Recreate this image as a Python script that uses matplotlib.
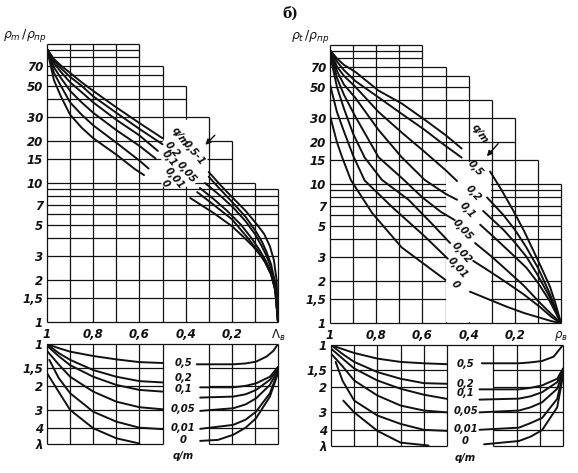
import numpy as np
import matplotlib
matplotlib.use("Agg")
import matplotlib.pyplot as plt
from matplotlib.ticker import NullLocator

W, H = 578, 473

# ---------------- data: upper-left nomogram  (rho_m / rho_pr  vs  Lambda_v) ----------------
tl_labels = ['0,5-1', '0,2', '0,1', '0,05', '0,01', '0']
tl_left_x = [
    [1.0, 0.97, 0.94, 0.9, 0.85, 0.8, 0.7, 0.6, 0.5],
    [1.0, 0.97, 0.94, 0.9, 0.85, 0.8, 0.7, 0.6, 0.5],
    [1.0, 0.97, 0.94, 0.9, 0.85, 0.8, 0.7, 0.6, 0.52],
    [1.0, 0.97, 0.94, 0.9, 0.85, 0.8, 0.7, 0.6, 0.53],
    [1.0, 0.97, 0.94, 0.9, 0.85, 0.8, 0.7, 0.6, 0.56],
    [1.0, 0.97, 0.94, 0.9, 0.85, 0.8, 0.7, 0.62, 0.58],
]
tl_left_y = [
    [92, 78, 70, 62, 53, 46, 35, 27, 21],
    [92, 76, 67, 58, 50, 42, 32, 24.5, 19],
    [92, 73, 63, 53, 45, 38, 28.5, 22, 17],
    [92, 68, 57, 46, 38, 32, 24, 18.5, 15],
    [92, 62, 50, 38, 31, 26, 19.5, 14.5, 12.7],
    [92, 55, 42, 31, 25, 21, 16, 12.6, 11.4],
]
tl_right_x = [
    [0.30, 0.25, 0.195, 0.14, 0.09, 0.06, 0.035, 0.018, 0.006, 0.0],
    [0.30, 0.25, 0.195, 0.14, 0.10, 0.07, 0.05, 0.03, 0.012, 0.0],
    [0.316, 0.25, 0.195, 0.14, 0.10, 0.07, 0.05, 0.03, 0.012, 0.0],
    [0.338, 0.28, 0.22, 0.16, 0.114, 0.08, 0.055, 0.03, 0.012, 0.0],
    [0.35, 0.28, 0.20, 0.135, 0.09, 0.056, 0.03, 0.012, 0.0],
    [0.38, 0.28, 0.20, 0.15, 0.108, 0.075, 0.056, 0.03, 0.012, 0.0],
]
tl_right_y = [
    [12, 9.7, 7.8, 6.3, 5.0, 4.3, 3.5, 2.8, 2.0, 1.0],
    [11.1, 9.0, 7.2, 5.7, 4.6, 3.8, 3.2, 2.6, 1.9, 1.0],
    [10, 8.1, 6.7, 5.3, 4.3, 3.5, 3.0, 2.45, 1.8, 1.0],
    [9.2, 7.7, 6.3, 5.0, 4.0, 3.3, 2.8, 2.3, 1.7, 1.0],
    [8.6, 7.0, 5.5, 4.1, 3.3, 2.7, 2.2, 1.7, 1.0],
    [7.8, 6.1, 4.9, 4.1, 3.5, 3.0, 2.7, 2.2, 1.7, 1.0],
]
tl_label_pos = [(0.365, 16.4), (0.458, 17.4), (0.47, 15.0), (0.398, 11.9), (0.45, 10.9), (0.49, 9.9)]

# ---------------- data: upper-right nomogram  (rho_t / rho_pr  vs  rho_v) ----------------
tr_labels = ['', '0,5', '0,2', '0,1', '0,05', '0,02', '0,01', '0']
tr_left_x = [
    [1.0, 0.97, 0.94, 0.89, 0.79, 0.69, 0.59, 0.5, 0.43],
    [1.0, 0.97, 0.94, 0.89, 0.79, 0.69, 0.59, 0.5, 0.43],
    [1.0, 0.97, 0.94, 0.89, 0.79, 0.69, 0.59, 0.5, 0.45],
    [1.0, 0.97, 0.94, 0.89, 0.79, 0.69, 0.59, 0.5, 0.45],
    [1.0, 0.97, 0.94, 0.89, 0.79, 0.68, 0.6, 0.52, 0.46],
    [1.0, 0.97, 0.94, 0.9, 0.85, 0.775, 0.66, 0.56, 0.48],
    [1.0, 0.97, 0.94, 0.9, 0.85, 0.73, 0.59, 0.49],
    [1.0, 0.97, 0.95, 0.91, 0.818, 0.69, 0.5],
]
tr_left_y = [
    [92, 80, 72, 64, 47, 38, 29, 22.5, 18],
    [92, 76, 66, 55, 42, 32, 24.5, 18.8, 15.5],
    [92, 70, 60, 50, 33, 23.5, 17.0, 12.6, 10.5],
    [92, 65, 52, 41.6, 24.5, 15.6, 10.7, 8.5, 7.7],
    [92, 58, 44, 30.5, 15.6, 10.7, 8.0, 6.3, 5.5],
    [85, 50, 35, 23, 15.5, 10.7, 7.7, 5.2, 3.76],
    [52, 33, 24, 16, 10.6, 6.8, 4.2, 2.9],
    [31, 20, 16, 10.7, 6.2, 3.5, 2.04],
]
tr_right_x = [
    [0.307, 0.26, 0.208, 0.16, 0.121, 0.08, 0.048, 0.025, 0.0],
    [0.32, 0.25, 0.20, 0.15, 0.10, 0.05, 0.0],
    [0.337, 0.25, 0.20, 0.15, 0.10, 0.05, 0.0],
    [0.35, 0.28, 0.20, 0.15, 0.10, 0.05, 0.0],
    [0.372, 0.30, 0.235, 0.16, 0.09, 0.04, 0.0],
    [0.38, 0.30, 0.235, 0.16, 0.09, 0.04, 0.0],
    [0.394, 0.30, 0.235, 0.16, 0.09, 0.04, 0.0],
]
tr_right_y = [
    [12.3, 9.2, 6.5, 4.6, 3.35, 2.4, 1.83, 1.4, 1.0],
    [8.0, 6.0, 4.7, 3.5, 2.5, 1.65, 1.0],
    [6.4, 4.7, 3.8, 3.0, 2.2, 1.55, 1.0],
    [5.1, 4.0, 3.0, 2.5, 1.95, 1.45, 1.0],
    [3.76, 3.0, 2.4, 1.85, 1.39, 1.15, 1.0],
    [2.8, 2.3, 1.95, 1.6, 1.3, 1.1, 1.0],
    [1.68, 1.45, 1.31, 1.18, 1.09, 1.03, 1.0],
]
tr_label_pos = [None, (0.372, 13.0), (0.38, 8.6), (0.407, 6.5), (0.424, 4.7),
                (0.43, 3.2), (0.446, 2.5), (0.459, 1.88)]

# ---------------- data: lower nomograms  (lambda) ----------------
lam_labels = ['0,5', '0,2', '0,1', '0,05', '0,01', '0']
bl_left_x = [
    [1.0, 0.95, 0.9, 0.8, 0.7, 0.6, 0.5],
    [1.0, 0.95, 0.9, 0.8, 0.7, 0.6, 0.5],
    [1.0, 0.95, 0.9, 0.8, 0.7, 0.6, 0.5],
    [1.0, 0.95, 0.9, 0.8, 0.7, 0.6, 0.5],
    [0.99, 0.95, 0.9, 0.8, 0.7, 0.6, 0.5],
    [1.0, 0.95, 0.9, 0.8, 0.7, 0.6],
]
bl_left_y = [
    [1.0, 1.07, 1.135, 1.22, 1.29, 1.35, 1.37],
    [1.0, 1.16, 1.30, 1.54, 1.72, 1.85, 1.89],
    [1.03, 1.22, 1.42, 1.72, 1.97, 2.14, 2.2],
    [1.12, 1.4, 1.72, 2.2, 2.6, 2.85, 2.95],
    [1.3, 1.75, 2.26, 3.07, 3.62, 4.0, 4.1],
    [1.62, 2.2, 2.98, 4.04, 4.77, 5.2],
]
bl_right_x = [
    [0.352, 0.3, 0.194, 0.14, 0.095, 0.049, 0.02, 0.0],
    [0.337, 0.194, 0.14, 0.095, 0.035, 0.0],
    [0.337, 0.194, 0.14, 0.095, 0.035, 0.0],
    [0.337, 0.194, 0.14, 0.095, 0.035, 0.0],
    [0.337, 0.194, 0.14, 0.095, 0.035, 0.0],
    [0.337, 0.26, 0.194, 0.14, 0.095, 0.035, 0.0],
]
bl_right_y = [
    [1.40, 1.40, 1.40, 1.38, 1.34, 1.23, 1.12, 1.0],
    [2.05, 2.05, 2.0, 1.92, 1.72, 1.46],
    [2.43, 2.39, 2.3, 2.14, 1.81, 1.50],
    [3.03, 2.9, 2.72, 2.46, 1.97, 1.54],
    [4.08, 3.82, 3.5, 3.07, 2.26, 1.58],
    [4.98, 4.9, 4.5, 4.0, 3.42, 2.39, 1.62],
]
bl_label_y = [1.37, 1.76, 2.1, 2.95, 4.05, 4.9]

br_left_x = [
    [1.0, 0.95, 0.9, 0.8, 0.7, 0.6, 0.5],
    [1.0, 0.95, 0.9, 0.8, 0.7, 0.6, 0.5],
    [1.0, 0.95, 0.9, 0.8, 0.7, 0.6, 0.5],
    [1.0, 0.95, 0.9, 0.8, 0.7, 0.6, 0.5],
    [0.98, 0.95, 0.9, 0.8, 0.7, 0.6, 0.5],
    [0.947, 0.9, 0.8, 0.7, 0.58],
]
br_left_y = [
    [1.0, 1.07, 1.14, 1.25, 1.32, 1.35, 1.37],
    [1.0, 1.16, 1.32, 1.56, 1.74, 1.87, 1.89],
    [1.06, 1.25, 1.47, 1.79, 2.05, 2.26, 2.42],
    [1.15, 1.42, 1.79, 2.29, 2.7, 2.93, 3.02],
    [1.32, 1.8, 2.49, 3.18, 3.65, 4.02, 4.09],
    [2.49, 3.02, 4.09, 4.96, 5.2],
]
br_right_x = [
    [0.35, 0.30, 0.19, 0.14, 0.09, 0.04, 0.0],
    [0.36, 0.19, 0.14, 0.09, 0.025, 0.0],
    [0.36, 0.19, 0.14, 0.09, 0.025, 0.0],
    [0.36, 0.19, 0.14, 0.09, 0.025, 0.0],
    [0.36, 0.19, 0.14, 0.09, 0.025, 0.0],
    [0.34, 0.19, 0.14, 0.09, 0.025, 0.0],
]
br_right_y = [
    [1.35, 1.35, 1.35, 1.33, 1.30, 1.21, 1.0],
    [2.07, 2.07, 2.02, 1.94, 1.74, 1.47],
    [2.45, 2.41, 2.32, 2.17, 1.84, 1.51],
    [3.02, 2.93, 2.78, 2.56, 2.05, 1.54],
    [4.02, 3.88, 3.6, 3.31, 2.42, 1.6],
    [5.1, 4.83, 4.5, 4.04, 2.78, 1.66],
]
br_label_y = [1.36, 1.9, 2.2, 2.95, 3.95, 4.85]

# ---------------- axes furniture ----------------
top_hgrid = [100, 90, 80, 70, 60, 50, 40, 30, 20, 15, 10, 9, 8, 7, 6, 5, 4, 3, 2, 1.5, 1]
top_ticks = [70, 50, 30, 20, 15, 10, 7, 5, 3, 2, 1.5, 1]
top_ticklabels = ['70', '50', '30', '20', '15', '10', '7', '5', '3', '2', '1,5', '1']
col_edges = [1.0, 0.6, 0.5, 0.4, 0.3, 0.2, 0.1, 0.0]
tl_col_tops = [100, 70, 50, 30, 20, 10, 9]
tr_col_tops = [100, 70, 60, 40, 30, 15, 10]
x_ticks = [1.0, 0.8, 0.6, 0.4, 0.2, 0.0]
lam_grid = [1, 1.5, 2, 3, 4, 5.2]
lam_ticks = [1, 1.5, 2, 3, 4, 5.2]
lam_ticklabels = ['1', '1,5', '2', '3', '4', 'λ']

INK = '#111111'
FONT = dict(fontstyle='italic', fontweight='bold', family='DejaVu Sans', color=INK)
CURVE_FS = 7.2


def rect(l, t, r, b):
    return [l / W, 1 - b / H, (r - l) / W, (b - t) / H]


def bare(ax, ylim, log=True):
    ax.set_xlim(1.0, 0.0)
    if log:
        ax.set_yscale('log')
    ax.set_ylim(*ylim)
    for s in ax.spines.values():
        s.set_visible(False)
    ax.yaxis.set_minor_locator(NullLocator())
    ax.xaxis.set_minor_locator(NullLocator())
    ax.tick_params(length=0, labelsize=8.5)
    ax.patch.set_alpha(0)


def stair_grid(ax, tops):
    xs = np.round(np.arange(1.0, -0.001, -0.1), 2)
    for v in top_hgrid:
        end = None
        for k, t in enumerate(tops):
            if t >= v * 0.999:
                end = col_edges[k + 1]
        ax.hlines(v, 1.0, end, color=INK, lw=0.9, zorder=1, clip_on=False)
    for x in xs:
        adj = [tops[k] for k in range(len(tops))
               if col_edges[k + 1] - 1e-9 <= x <= col_edges[k] + 1e-9]
        ax.vlines(x, 1, max(adj), color=INK, lw=0.9, zorder=1, clip_on=False)


def style_ticks(ax, yt, ytl, xlabels):
    ax.set_yticks(yt, ytl)
    for t in ax.get_yticklabels():
        t.set_fontstyle('italic'); t.set_fontweight('bold'); t.set_color(INK)
    if xlabels is None:
        ax.set_xticks([])
    else:
        ax.set_xticks(x_ticks, xlabels)
        for t in ax.get_xticklabels():
            t.set_fontstyle('italic'); t.set_fontweight('bold'); t.set_color(INK)


fig = plt.figure(figsize=(W / 100, H / 100), dpi=100)
fig.patch.set_facecolor('white')

# ======== upper left ========
ax = fig.add_axes(rect(47, 44, 278, 322))
bare(ax, (1, 100))
stair_grid(ax, tl_col_tops)
ax.fill([0.505, 0.45, 0.305, 0.305, 0.37, 0.505], [19, 28.5, 28.5, 12.5, 9.4, 9.4],
        color='white', zorder=2, lw=0)
for xs, ys in zip(tl_left_x, tl_left_y):
    ax.plot(xs, ys, color=INK, lw=1.4, zorder=3, solid_capstyle='round')
for xs, ys in zip(tl_right_x, tl_right_y):
    ax.plot(xs, ys, color=INK, lw=1.4, zorder=3, solid_capstyle='round')
for lab, (x, y) in zip(tl_labels, tl_label_pos):
    ax.text(x, y, lab, rotation=-50, ha='center', va='center', fontsize=CURVE_FS, zorder=4, **FONT)
ax.text(0.425, 21.6, 'q/m', rotation=-55, ha='center', va='center', fontsize=CURVE_FS, zorder=4, **FONT)
ax.annotate('', xy=(0.323, 18.2), xytext=(0.265, 22.8),
            arrowprops=dict(arrowstyle='-|>', color=INK, lw=1.0, mutation_scale=8), zorder=4)
style_ticks(ax, top_ticks, top_ticklabels, ['1', '0,8', '0,6', '0,4', '0,2', r'$\Lambda_в$'])
ax.tick_params(axis='x', pad=4)
ax.tick_params(axis='y', pad=3)
ax.text(1.0, 100, r'$\rho_m\,/\rho_{пр}$', ha='right', va='bottom', fontsize=9,
        color=INK, transform=ax.transData)

# ======== upper right ========
ax = fig.add_axes(rect(330, 45, 561, 323))
bare(ax, (1, 100))
stair_grid(ax, tr_col_tops)
ax.fill([0.497, 0.303, 0.303, 0.497], [14.3, 14.3, 1.02, 1.02], color='white', zorder=2, lw=0)
for xs, ys in zip(tr_left_x, tr_left_y):
    ax.plot(xs, ys, color=INK, lw=1.4, zorder=3, solid_capstyle='round')
for xs, ys in zip(tr_right_x, tr_right_y):
    ax.plot(xs, ys, color=INK, lw=1.4, zorder=3, solid_capstyle='round')
for lab, pos in zip(tr_labels, tr_label_pos):
    if pos is None:
        continue
    ax.text(pos[0], pos[1], lab, rotation=-48, ha='center', va='center', fontsize=CURVE_FS, zorder=4, **FONT)
ax.text(0.35, 23, 'q/m', rotation=-55, ha='center', va='center', fontsize=CURVE_FS, zorder=4, **FONT)
ax.annotate('', xy=(0.329, 15.3), xytext=(0.264, 20.2),
            arrowprops=dict(arrowstyle='-|>', color=INK, lw=1.0, mutation_scale=8), zorder=4)
style_ticks(ax, top_ticks, top_ticklabels, ['1', '0,8', '0,6', '0,4', '0,2', r'$\rho_в$'])
ax.tick_params(axis='x', pad=4)
ax.tick_params(axis='y', pad=3)
ax.text(1.0, 100, r'$\rho_t\,/\rho_{пр}$', ha='right', va='bottom', fontsize=9,
        color=INK, transform=ax.transData)


def lambda_panel(box, lx, ly, rx, ry, label_y, label_x):
    ax = fig.add_axes(rect(*box))
    bare(ax, (5.2, 1))
    for v in lam_grid:
        if v == 1:
            ax.hlines(v, 1.0, 0.0, color=INK, lw=0.9, zorder=1, clip_on=False)
        else:
            ax.hlines(v, 1.0, 0.5, color=INK, lw=0.9, zorder=1, clip_on=False)
            ax.hlines(v, 0.3, 0.0, color=INK, lw=0.9, zorder=1, clip_on=False)
    for x in [1.0, 0.9, 0.8, 0.7, 0.6, 0.5, 0.3, 0.2, 0.1, 0.0]:
        ax.vlines(x, 1, 5.2, color=INK, lw=0.9, zorder=1, clip_on=False)
    for xs, ys in zip(lx, ly):
        ax.plot(xs, ys, color=INK, lw=1.4, zorder=3, solid_capstyle='round')
    for xs, ys in zip(rx, ry):
        ax.plot(xs, ys, color=INK, lw=1.4, zorder=3, solid_capstyle='round')
    for lab, y in zip(lam_labels, label_y):
        ax.text(label_x, y, lab, ha='center', va='center', fontsize=CURVE_FS, zorder=4, **FONT)
    ax.text(label_x, 6.35, 'q/m', ha='center', va='center', fontsize=CURVE_FS, zorder=4,
            clip_on=False, **FONT)
    style_ticks(ax, lam_ticks, lam_ticklabels, None)
    ax.tick_params(axis='y', pad=3)
    return ax


lambda_panel((47, 344, 278, 443.5), bl_left_x, bl_left_y, bl_right_x, bl_right_y, bl_label_y, 0.41)
lambda_panel((331, 345, 563, 445.5), br_left_x, br_left_y, br_right_x, br_right_y, br_label_y, 0.42)

fig.text(290 / W, 1 - 14 / H, 'б)', ha='center', va='center', fontsize=10,
         fontweight='bold', family='DejaVu Serif', color=INK)

fig.savefig('out.png', dpi=100, facecolor='white')
